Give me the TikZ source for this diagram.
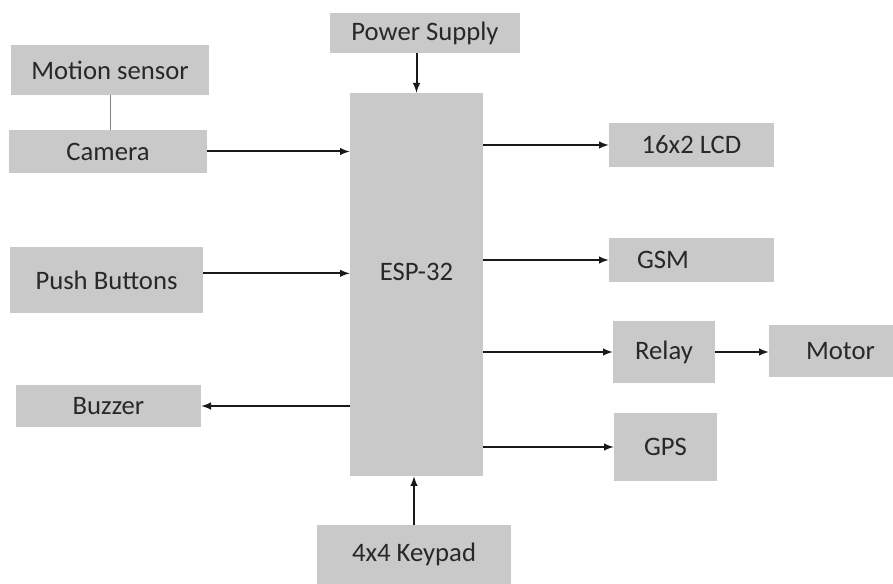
\documentclass[tikz,border=0pt]{standalone}
\usepackage{fontspec}
\setmainfont{Carlito}
\usepackage{tikz}
\definecolor{boxgray}{RGB}{201,201,201}
\definecolor{txtgray}{RGB}{40,40,40}

\begin{document}
\begin{tikzpicture}[
    x=0.75pt, y=-0.75pt,
    box/.style={rectangle, fill=boxgray, inner sep=2pt, text=txtgray,
                font={\fontsize{20}{24}\selectfont}},
    arrow/.style={->, line width=1.5pt, >=latex, black!90}
]
\useasboundingbox (0,0) rectangle (893,584);
% controller
\node[box, minimum width=99.75pt, minimum height=287.25pt, text depth=19pt] (esp) at (416.5,284.5) {ESP-32};
% inputs
\node[box, minimum width=142.5pt, minimum height=30pt] (power) at (425,33) {Power Supply};
\node[box, minimum width=148.5pt, minimum height=37.5pt] (motion) at (110,70) {Motion sensor};
\node[box, minimum width=148.5pt, minimum height=32.25pt] (camera) at (108,151.5) {Camera};
\node[box, minimum width=144.75pt, minimum height=49.5pt] (push) at (106.5,280) {Push Buttons};
\node[box, minimum width=145.5pt, minimum height=44.25pt] (keypad) at (414,554.5) {4x4 Keypad};
% outputs
\node[box, minimum width=138.75pt, minimum height=31.5pt] (buzzer) at (108.5,406) {Buzzer};
\node[box, minimum width=123.75pt, minimum height=33pt] (lcd) at (691.5,145) {16x2 LCD};
\node[box, minimum width=123.75pt, minimum height=33pt, text width=81.75pt, align=left] (gsm) at (691.5,260) {GSM};
\node[box, minimum width=76.5pt, minimum height=46.5pt] (relay) at (664,352) {Relay};
\node[box, minimum width=93pt, minimum height=39pt, text width=66pt, align=right] (motor) at (831,351) {Motor};
\node[box, minimum width=77.25pt, minimum height=51pt] (gps) at (665.5,447) {GPS};

\draw[gray, thin] (motion.south) -- (motion.south |- camera.north);
\draw[arrow] (esp.north |- power.south) -- (esp.north);
\draw[arrow] (keypad.north) -- (keypad.north |- esp.south);
\draw[arrow] (camera.east) -- (camera.east -| esp.west);
\draw[arrow] ([yshift=5pt]push.east) -- ([yshift=5pt]push.east -| esp.west);
\draw[arrow] (esp.west |- buzzer.east) -- (buzzer.east);
\draw[arrow] (esp.east |- lcd.west) -- (lcd.west);
\draw[arrow] (esp.east |- gsm.west) -- (gsm.west);
\draw[arrow] (esp.east |- relay.west) -- (relay.west);
\draw[arrow] (esp.east |- gps.west) -- (gps.west);
\draw[arrow] (relay.east) -- (relay.east -| motor.west);
\end{tikzpicture}
\end{document}
